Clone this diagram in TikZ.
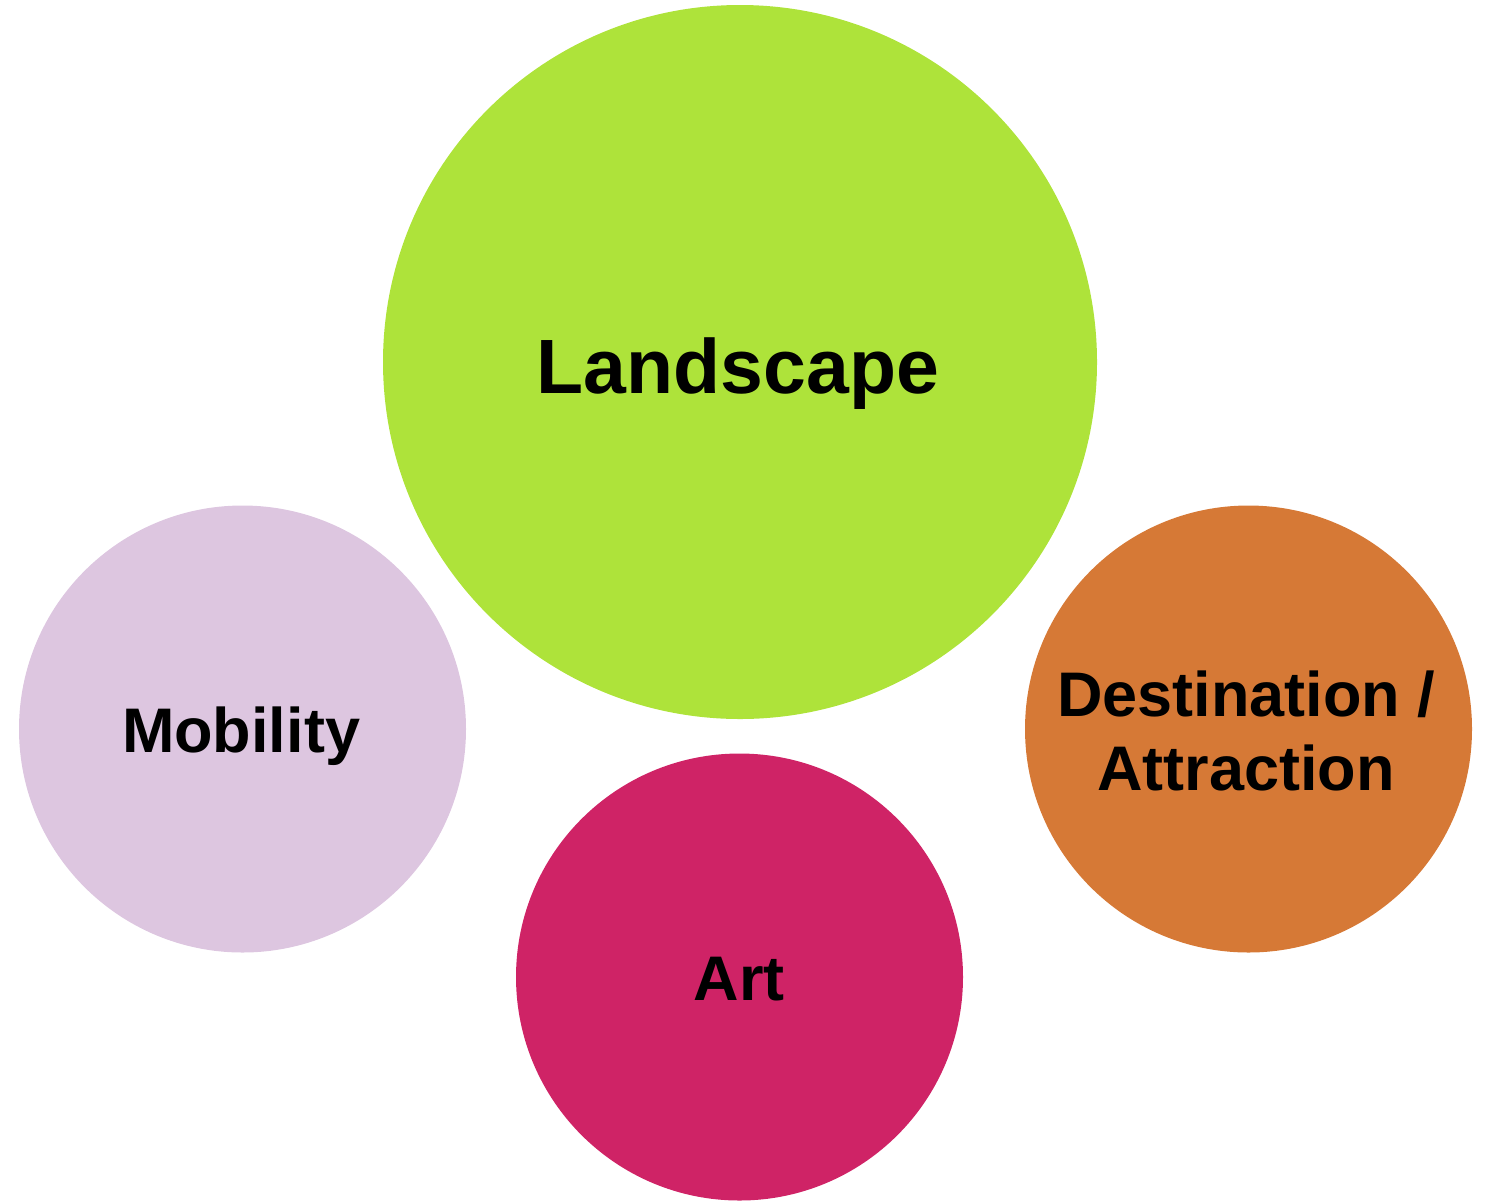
\documentclass[tikz,border=0pt]{standalone}
\usepackage{fontspec}
\setmainfont{Liberation Sans}
\definecolor{cgreen}{HTML}{AEE33A}
\definecolor{clilac}{HTML}{DDC6E0}
\definecolor{corange}{HTML}{D67936}
\definecolor{cmagenta}{HTML}{CF2366}
\tikzset{
  bubble/.style={circle, inner sep=0pt, draw=none},
  bigtxt/.style={anchor=base, font=\fontsize{38.5}{44}\selectfont\bfseries},
  smalltxt/.style={anchor=base, font=\fontsize{31.5}{37}\selectfont\bfseries},
}
\begin{document}
\begin{tikzpicture}[x=0.5pt,y=-0.5pt]
\useasboundingbox (0,0) rectangle (1486,1200);
\node[bubble, fill=cgreen, minimum size=357pt] (land) at (740,362) {};
\node[bubble, fill=clilac, minimum size=223.5pt] (mob) at (242.5,729) {};
\node[bubble, fill=corange, minimum size=223.5pt] (dest) at (1248.5,729) {};
\node[bubble, fill=cmagenta, minimum size=223.5pt] (art) at (739.5,977) {};
\node[bigtxt] (landt) at (738,393) {Landscape};
\node[smalltxt] (mobt) at (241,752) {Mobility};
\node[smalltxt] (destt1) at (1246,716) {Destination /};
\node[smalltxt] (destt2) at (1246,790) {Attraction};
\node[smalltxt] (artt) at (739,1000) {Art};
\end{tikzpicture}
\end{document}
